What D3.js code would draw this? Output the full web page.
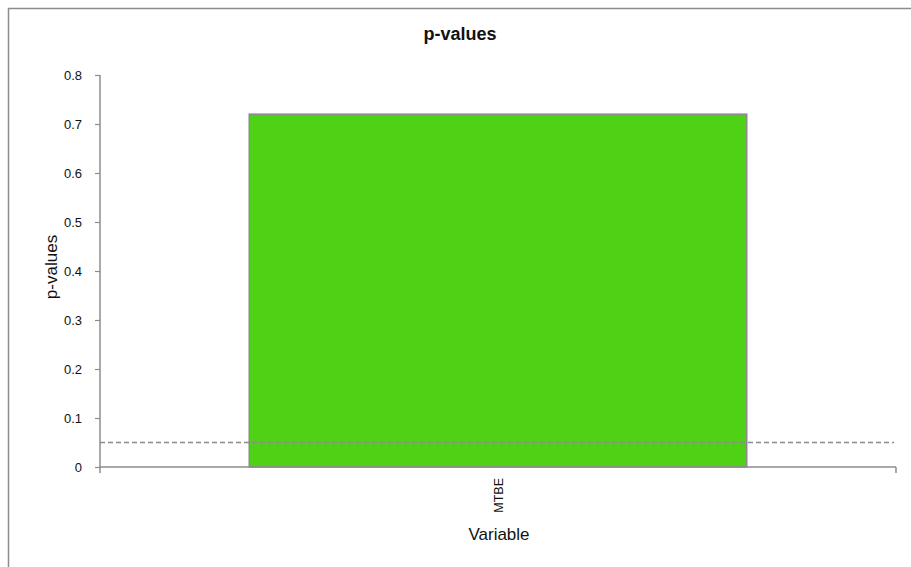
<!DOCTYPE html>
<html><head><meta charset="utf-8">
<script src="https://cdn.jsdelivr.net/npm/d3@7"></script>
<style>body{margin:0;background:#fff}svg{display:block}</style>
</head><body>
<script>
const categories = ["MTBE"];
const pValues = [0.72];
const yTicks = [0, 0.1, 0.2, 0.3, 0.4, 0.5, 0.6, 0.7, 0.8];
const threshold = [0.05];

const W = 911, H = 567;
const svg = d3.select("body").append("svg").attr("width", W).attr("height", H);
svg.append("rect").attr("width", W).attr("height", H).attr("fill", "#fff");
// outer chart border
svg.append("path").attr("d", `M8.5,${H+2}V8.5H${W+2}`).attr("fill","none").attr("stroke","#8c8c8c").attr("stroke-width",1.5);

const x0 = 100, x1 = 896, y0 = 467, y1 = 75;
const x = d3.scaleBand().domain(categories).range([x0, x1]).paddingInner(0.375).paddingOuter(0.1875);
const y = d3.scaleLinear().domain([0, 0.8]).range([y0, y1]);

const fontA = "'Liberation Sans', Arial, sans-serif";

// bars
svg.selectAll(".bar").data(pValues).enter().append("rect")
  .attr("x", (d,i) => x(categories[i]))
  .attr("y", d => y(d))
  .attr("width", x.bandwidth())
  .attr("height", d => y(0) - y(d))
  .attr("fill", "#4fd216").attr("stroke", "#8a8a8a").attr("stroke-width", 1.5);

// threshold dashed line
svg.selectAll(".thr").data(threshold).enter().append("line")
  .attr("x1", x0).attr("x2", 894).attr("y1", d => y(d)).attr("y2", d => y(d))
  .attr("stroke", "#8c8c8c").attr("stroke-width", 1.5).attr("stroke-dasharray", "5,3");

// y axis
const yAxis = d3.axisLeft(y).tickValues(yTicks).tickSize(5).tickPadding(13).tickFormat(d => d === 0 ? "0" : d3.format(".1f")(d));
const gy = svg.append("g").attr("transform", `translate(${x0},0)`).call(yAxis);
gy.select(".domain").attr("stroke", "#8c8c8c").attr("stroke-width", 1.5).attr("d", `M0,${y0}V${y1}`);
gy.selectAll(".tick line").attr("stroke", "#8c8c8c").attr("stroke-width", 1.2);
gy.selectAll(".tick text").attr("font-family", fontA).attr("font-size", 13).attr("fill", "#111");

// x axis
svg.append("line").attr("x1", x0).attr("x2", x1).attr("y1", y0).attr("y2", y0).attr("stroke", "#8c8c8c").attr("stroke-width", 1.5);
[x0, x1].forEach(px => svg.append("line").attr("x1", px).attr("x2", px).attr("y1", y0).attr("y2", y0+6).attr("stroke", "#8c8c8c").attr("stroke-width", 1.5));
svg.selectAll(".xlab").data(categories).enter().append("text")
  .attr("transform", d => `translate(${x(d) + x.bandwidth()/2 + 5},${y0 + 11}) rotate(-90)`)
  .attr("text-anchor", "end").attr("font-family", fontA).attr("font-size", 12.5).attr("fill", "#111")
  .text(d => d);

// titles
svg.append("text").attr("x", 460).attr("y", 40).attr("text-anchor", "middle")
  .attr("font-family", fontA).attr("font-weight", "bold").attr("font-size", 18).attr("fill", "#111").text("p-values");
svg.append("text").attr("x", 499).attr("y", 540).attr("text-anchor", "middle")
  .attr("font-family", fontA).attr("font-size", 17).attr("fill", "#111").text("Variable");
svg.append("text").attr("transform", `translate(57,267) rotate(-90)`).attr("text-anchor", "middle")
  .attr("font-family", fontA).attr("font-size", 17).attr("fill", "#111").text("p-values");
</script>
</body></html>
